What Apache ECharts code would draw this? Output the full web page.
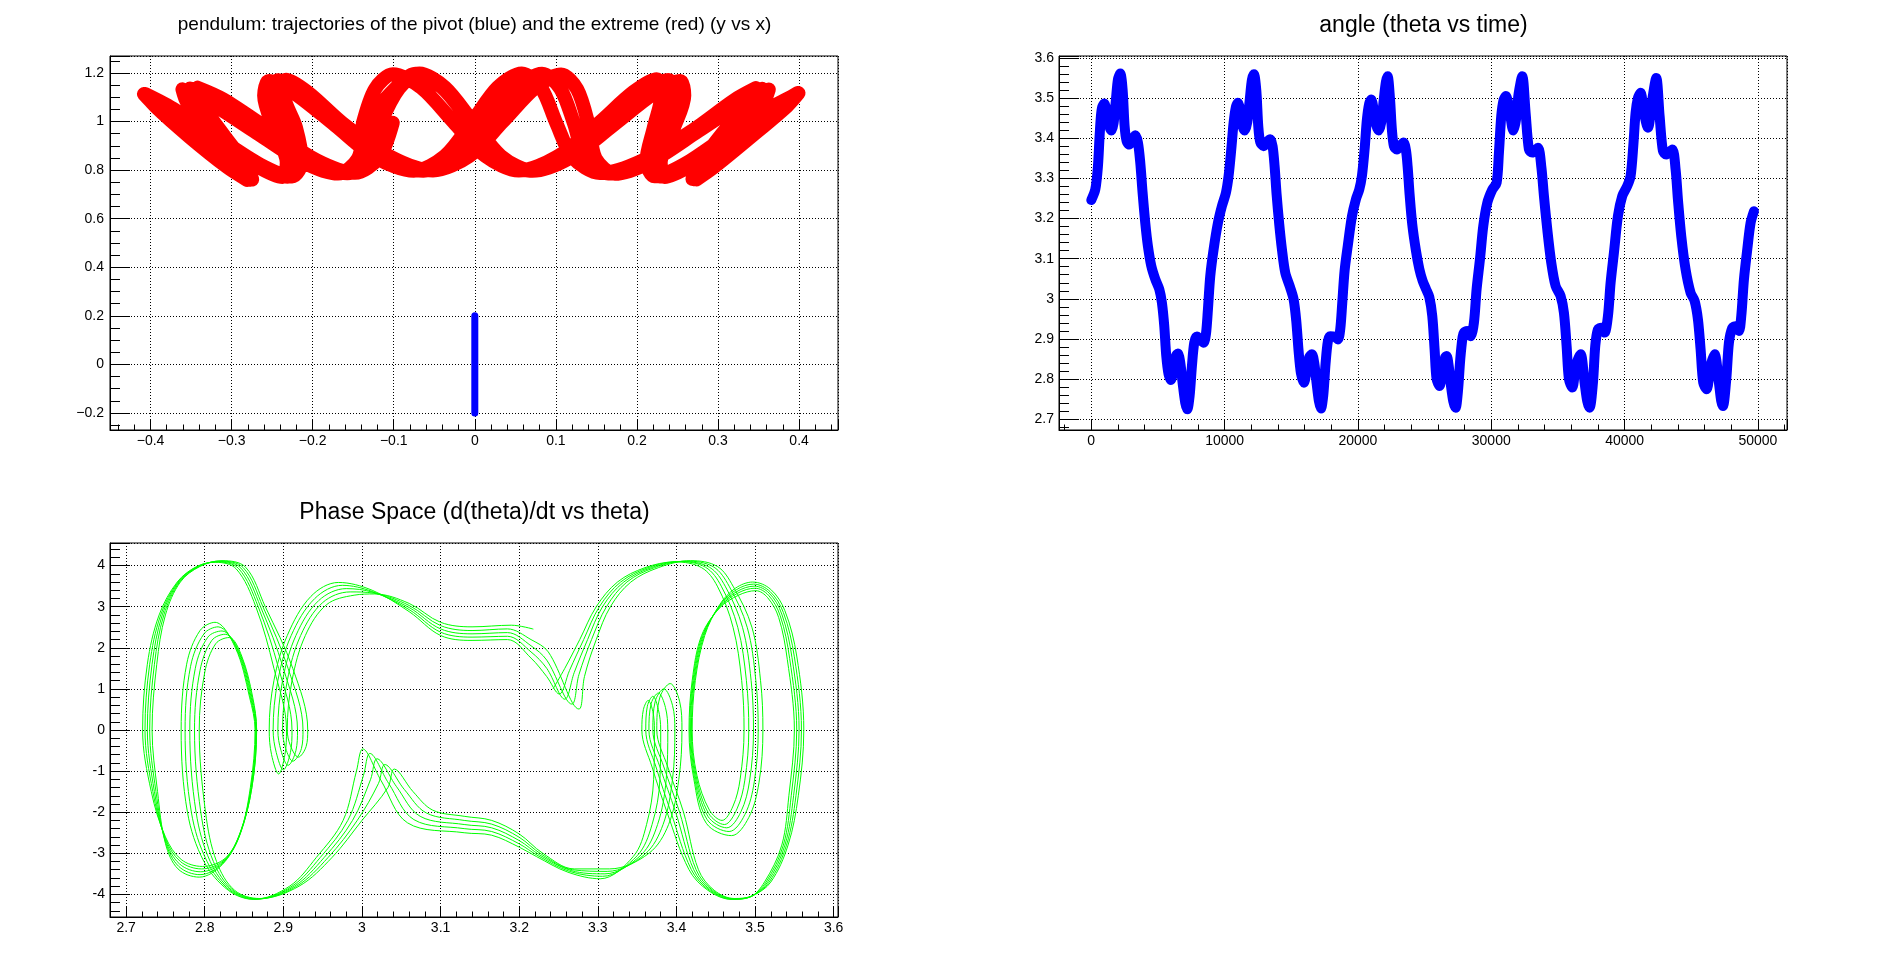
<!DOCTYPE html>
<html><head><meta charset="utf-8">
<script src="https://cdn.jsdelivr.net/npm/echarts@6/dist/echarts.min.js"></script>
<style>html,body{margin:0;padding:0;background:#fff}#c{width:1898px;height:974px}</style>
</head><body><div id="c"></div>
<script>
// ---------- titles ----------
const titles = [
  'pendulum: trajectories of the pivot (blue) and the extreme (red) (y vs x)',
  'angle (theta vs time)',
  'Phase Space (d(theta)/dt vs theta)'
];

// ---------- pad 1: pivot (blue) and extreme (red), three successive laps ----------
const pivotX = [0, 0];
const pivotY = [-0.2, 0.2];
const extremeX1 = [-0.1012,-0.1181,-0.1477,-0.1946,-0.2536,-0.3104,-0.3420,-0.3388,-0.3111,-0.2815,-0.2746,-0.3002,-0.3480,-0.3930,-0.4082,-0.3823,
  -0.3263,-0.2716,-0.2371,-0.2320,-0.2478,-0.2599,-0.2540,-0.2225,-0.1725,-0.1221,-0.0753,-0.0370,-0.0032,0.0283,0.0580,0.0819,
  0.1004,0.1209,0.1542,0.2052,0.2683,0.3203,0.3469,0.3387,0.3056,0.2761,0.2684,0.2919,0.3378,0.3824,0.3983,0.3746,
  0.3218,0.2681,0.2342,0.2293,0.2451,0.2584,0.2532,0.2215,0.1708,0.1180,0.0711,0.0322,-0.0026,-0.0368,-0.0684,-0.0933];
const extremeY1 = [0.9949,0.8516,0.7890,0.8395,0.9673,1.0920,1.1397,1.0823,0.9504,0.8182,0.7616,0.8125,0.9375,1.0610,1.1129,1.0654,
  0.9453,0.8210,0.7715,0.8313,0.9688,1.1070,1.1672,1.1163,0.9850,0.8511,0.7972,0.8579,1.0000,1.1410,1.1983,1.1380,
  0.9949,0.8513,0.7880,0.8373,0.9633,1.0887,1.1379,1.0823,0.9522,0.8197,0.7633,0.8151,0.9412,1.0654,1.1172,1.0686,
  0.9468,0.8220,0.7722,0.8320,0.9695,1.1074,1.1674,1.1166,0.9853,0.8516,0.7975,0.8581,1.0000,1.1407,1.1977,1.1370];
const extremeX2 = [-0.1161,-0.1299,-0.1574,-0.2039,-0.2633,-0.3203,-0.3513,-0.3466,-0.3168,-0.2858,-0.2777,-0.3025,-0.3498,-0.3933,-0.4074,-0.3808,
  -0.3244,-0.2681,-0.2310,-0.2220,-0.2332,-0.2467,-0.2427,-0.2136,-0.1666,-0.1132,-0.0634,-0.0220,0.0156,0.0516,0.0829,0.1055,
  0.1223,0.1365,0.1645,0.2118,0.2721,0.3263,0.3546,0.3471,0.3142,0.2812,0.2714,0.2942,0.3397,0.3838,0.3988,0.3732,
  0.3180,0.2636,0.2283,0.2209,0.2334,0.2448,0.2391,0.2088,0.1609,0.1124,0.0678,0.0294,-0.0058,-0.0405,-0.0733,-0.0981];
const extremeY2 = [0.9932,0.8501,0.7875,0.8376,0.9647,1.0887,1.1363,1.0794,0.9485,0.8169,0.7607,0.8118,0.9368,1.0608,1.1133,1.0660,
  0.9459,0.8220,0.7730,0.8336,0.9724,1.1105,1.1701,1.1183,0.9860,0.8522,0.7980,0.8584,0.9999,1.1401,1.1966,1.1358,
  0.9925,0.8492,0.7864,0.8359,0.9623,1.0867,1.1350,1.0792,0.9494,0.8182,0.7625,0.8144,0.9405,1.0648,1.1170,1.0692,
  0.9481,0.8233,0.7736,0.8339,0.9724,1.1110,1.1710,1.1194,0.9870,0.8523,0.7977,0.8582,1.0000,1.1406,1.1973,1.1366];
const extremeX3 = [-0.1340,-0.1440,-0.1687,-0.2138,-0.2729,-0.3301,-0.3607,-0.3545,-0.3225,-0.2900,-0.2808,-0.3048,-0.3517,-0.3936,-0.4065,-0.3793,
  -0.3225,-0.2647,-0.2253,-0.2133,-0.2206,-0.2355,-0.2329,-0.2057,-0.1607,-0.1029,-0.0515,-0.0067,0.0345,0.0745,0.1064,0.1262,
  0.1401,0.1490,0.1728,0.2173,0.2760,0.3327,0.3627,0.3557,0.3227,0.2860,0.2734,0.2955,0.3416,0.3853,0.3993,0.3719,
  0.3142,0.2587,0.2216,0.2116,0.2208,0.2304,0.2244,0.1958,0.1510,0.1008,0.0543,0.0129,-0.0267,-0.0659,-0.1012,-0.1231,-0.1383];
const extremeY3 = [0.9910,0.8482,0.7857,0.8355,0.9620,1.0854,1.1327,1.0765,0.9466,0.8156,0.7598,0.8110,0.9361,1.0607,1.1137,1.0667,
  0.9466,0.8229,0.7743,0.8356,0.9754,1.1133,1.1725,1.1200,0.9870,0.8533,0.7987,0.8586,0.9994,1.1386,1.1943,1.1334,
  0.9901,0.8474,0.7850,0.8347,0.9612,1.0844,1.1319,1.0760,0.9465,0.8168,0.7619,0.8139,0.9399,1.0642,1.1168,1.0697,
  0.9494,0.8246,0.7751,0.8360,0.9753,1.1145,1.1745,1.1220,0.9885,0.8535,0.7985,0.8585,0.9996,1.1392,1.1949,1.1338,0.9904];

// ---------- pad 2: theta vs time ----------
const thetaTime = [0,300,500,625,725,825,975,1175,1350,1500,1675,1850,2000,2175,2350,2500,2650,2850,3050,3300,3500,3675,3850,4050,4250,4500,4800,5100,5300,5475,5625,5800,5975,6175,6350,6500,6675,6850,7050,7200,7375,7550,7725,7925,8175,8425,8600,8750,8925,9175,9500,9800,10100,
  10300,10500,10675,10850,11000,11200,11350,11500,11700,11900,12050,12200,12375,12525,12675,12925,13150,13425,13600,13750,13900,14100,14300,14550,14900,15175,15375,15550,15725,15950,16150,16350,16550,16725,16900,17075,17225,17400,17575,17750,17925,18250,18500,18675,18825,19000,19250,19550,19850,20100,
  20300,20500,20675,20850,21000,21200,21350,21550,21750,21950,22100,22225,22400,22550,22700,22925,23150,23425,23600,23725,23875,24075,24350,24600,24850,25100,25350,25575,25750,25900,26125,26375,26550,26650,26800,26950,27150,27325,27500,27675,27850,27950,28200,28450,28700,28900,29150,29400,29700,30075,30400,
  30575,30750,30925,31100,31375,31650,31850,32050,32325,32575,32825,33075,33500,33750,33950,34200,34500,34825,35200,35450,35650,35825,36075,36350,36700,37000,37200,37375,37625,37800,38000,38250,38500,38750,38950,39200,39500,39825,40200,40450,
  40650,40825,41000,41200,41450,41750,42075,42375,42625,42875,43125,43575,43825,44000,44250,44575,44950,45250,45500,45700,45900,46150,46450,46750,47075,47250,47375,47625,47825,48075,48325,48575,48750,48950,49200,49450,49700];
const thetaAngle = [3.246,3.272,3.33,3.405,3.455,3.478,3.486,3.463,3.43,3.419,3.438,3.496,3.546,3.561,3.521,3.43,3.393,3.384,3.393,3.407,3.389,3.339,3.264,3.189,3.131,3.082,3.049,3.024,2.99,2.932,2.858,2.812,2.798,2.829,2.858,2.864,2.841,2.791,2.741,2.725,2.758,2.833,2.891,2.906,2.899,2.891,2.912,2.974,3.057,3.123,3.189,3.231,3.264,
  3.306,3.372,3.438,3.478,3.488,3.462,3.43,3.419,3.44,3.5,3.545,3.559,3.52,3.43,3.39,3.38,3.39,3.397,3.38,3.33,3.26,3.185,3.123,3.065,3.03,2.999,2.945,2.87,2.815,2.791,2.82,2.855,2.862,2.84,2.79,2.745,2.727,2.76,2.84,2.895,2.907,2.906,2.899,2.925,2.99,3.07,3.135,3.205,3.248,3.272,
  3.306,3.372,3.447,3.487,3.496,3.466,3.435,3.419,3.44,3.5,3.54,3.554,3.5,3.42,3.38,3.372,3.38,3.389,3.37,3.33,3.26,3.185,3.12,3.075,3.045,3.025,3.005,2.957,2.874,2.8,2.783,2.833,2.855,2.858,2.835,2.791,2.745,2.729,2.77,2.85,2.905,2.916,2.92,2.907,2.941,3.024,3.098,3.181,3.239,3.272,3.289,
  3.364,3.455,3.495,3.505,3.467,3.419,3.445,3.51,3.554,3.463,3.372,3.364,3.376,3.33,3.256,3.173,3.09,3.032,3.007,2.965,2.883,2.8,2.779,2.833,2.862,2.791,2.745,2.729,2.791,2.883,2.924,2.928,2.916,2.957,3.04,3.115,3.206,3.256,3.281,3.306,
  3.38,3.463,3.5,3.513,3.463,3.426,3.496,3.55,3.455,3.368,3.359,3.372,3.322,3.247,3.156,3.073,3.015,2.995,2.949,2.874,2.791,2.775,2.833,2.862,2.791,2.745,2.733,2.8,2.891,2.928,2.932,2.92,2.957,3.048,3.123,3.189,3.218];

// ---------- pad 3: phase space, five successive cycles [theta, dtheta/dt] ----------
const phaseCycle0 = [[3.243,1.00],[3.258,1.5],[3.277,2.2],[3.298,3.0],[3.325,3.6],[3.36,3.95],[3.398,4.09],[3.432,3.95],[3.452,3.5],[3.472,2.5],[3.483,1.2],[3.486,0],[3.481,-1.2],[3.472,-1.85],[3.458,-2.2],[3.442,-1.95],[3.426,-1.1],[3.42,0],[3.424,1.2],[3.436,2.3],[3.455,3.05],[3.475,3.45],[3.497,3.6],[3.52,3.42],[3.538,2.9],[3.553,1.8],[3.562,0],[3.555,-1.6],[3.542,-2.8],[3.52,-3.7],[3.497,-4.03],[3.474,-4.1],[3.448,-3.9],[3.428,-3.4],[3.409,-2.0],[3.389,-0.9],[3.375,0],[3.379,0.8],[3.392,1.13],[3.404,0.7],[3.407,0],[3.403,-1.2],[3.39,-2.3],[3.365,-3.0],[3.315,-3.38],[3.27,-3.38],[3.23,-3.0],[3.2,-2.53],[3.165,-2.2],[3.13,-2.1],[3.09,-1.95],[3.065,-1.5],[3.041,-0.95],[3.033,-1.4],[3.0,-2.2],[2.962,-3.1],[2.92,-3.8],[2.87,-4.1],[2.838,-3.9],[2.815,-3.2],[2.801,-2.0],[2.793,0],[2.8,1.4],[2.814,2.1],[2.831,2.25],[2.847,1.8],[2.861,0.8],[2.866,0],[2.86,-1.4],[2.845,-2.5],[2.826,-3.12],[2.797,-3.32],[2.77,-3.15],[2.75,-2.6],[2.732,-1.5],[2.721,0],[2.727,1.6],[2.742,2.8],[2.765,3.6],[2.79,3.98],[2.814,4.08],[2.84,3.92],[2.865,3.0],[2.888,1.5],[2.904,0],[2.902,-0.6],[2.894,-1.07],[2.885,-0.6],[2.882,0],[2.888,1.2],[2.905,2.3],[2.935,3.25],[2.97,3.59],[3.013,3.4],[3.06,2.88],[3.1,2.3],[3.14,2.18],[3.185,2.2],[3.215,1.75],[3.235,1.3]];
const phaseCycle1 = [[3.251,0.875],[3.264,1.45],[3.282,2.2],[3.302,3.0],[3.329,3.6],[3.364,3.95],[3.403,4.1],[3.437,3.96],[3.457,3.5],[3.478,2.5],[3.489,1.2],[3.492,0],[3.487,-1.22],[3.477,-1.92],[3.461,-2.3],[3.441,-2.03],[3.425,-1.12],[3.419,0],[3.423,1.2],[3.435,2.3],[3.455,3.03],[3.476,3.41],[3.498,3.55],[3.519,3.37],[3.536,2.86],[3.55,1.78],[3.559,0],[3.552,-1.6],[3.54,-2.8],[3.518,-3.7],[3.496,-4.04],[3.473,-4.11],[3.446,-3.9],[3.425,-3.4],[3.404,-2.0],[3.384,-0.9],[3.37,0],[3.373,0.7],[3.384,1.0],[3.395,0.6],[3.398,0],[3.395,-1.2],[3.383,-2.3],[3.36,-3.02],[3.312,-3.44],[3.268,-3.4],[3.228,-3.02],[3.2,-2.61],[3.165,-2.29],[3.13,-2.2],[3.082,-2.02],[3.054,-1.45],[3.029,-0.84],[3.021,-1.3],[2.994,-2.2],[2.957,-3.1],[2.917,-3.8],[2.868,-4.11],[2.836,-3.9],[2.811,-3.2],[2.795,-2.0],[2.787,0],[2.794,1.45],[2.809,2.18],[2.826,2.33],[2.845,1.85],[2.86,0.8],[2.866,0],[2.86,-1.4],[2.845,-2.52],[2.825,-3.16],[2.796,-3.38],[2.769,-3.2],[2.75,-2.64],[2.734,-1.5],[2.724,0],[2.73,1.6],[2.744,2.8],[2.766,3.6],[2.791,3.98],[2.816,4.09],[2.843,3.93],[2.868,3.0],[2.894,1.5],[2.911,0],[2.909,-0.55],[2.9,-0.97],[2.891,-0.55],[2.887,0],[2.893,1.2],[2.91,2.3],[2.94,3.2],[2.975,3.52],[3.013,3.37],[3.06,2.93],[3.1,2.38],[3.14,2.26],[3.185,2.28],[3.215,1.9],[3.235,1.5]];
const phaseCycle2 = [[3.258,0.75],[3.270,1.4],[3.287,2.2],[3.306,3.0],[3.333,3.6],[3.368,3.95],[3.408,4.1],[3.442,3.96],[3.462,3.5],[3.484,2.5],[3.495,1.2],[3.498,0],[3.493,-1.24],[3.482,-1.99],[3.464,-2.38],[3.44,-2.1],[3.424,-1.14],[3.418,0],[3.422,1.2],[3.434,2.3],[3.455,3.01],[3.477,3.37],[3.499,3.5],[3.518,3.33],[3.534,2.82],[3.547,1.76],[3.556,0],[3.549,-1.6],[3.538,-2.8],[3.516,-3.7],[3.495,-4.05],[3.472,-4.11],[3.444,-3.9],[3.422,-3.4],[3.399,-2.0],[3.379,-0.9],[3.365,0],[3.368,0.65],[3.377,0.9],[3.386,0.55],[3.389,0],[3.387,-1.2],[3.376,-2.3],[3.355,-3.04],[3.309,-3.5],[3.266,-3.42],[3.226,-3.04],[3.2,-2.69],[3.165,-2.38],[3.13,-2.3],[3.074,-2.1],[3.044,-1.38],[3.019,-0.70],[3.011,-1.2],[2.988,-2.2],[2.952,-3.1],[2.914,-3.8],[2.866,-4.11],[2.834,-3.9],[2.807,-3.2],[2.789,-2.0],[2.781,0],[2.788,1.5],[2.804,2.26],[2.822,2.41],[2.843,1.9],[2.859,0.8],[2.865,0],[2.859,-1.4],[2.845,-2.54],[2.824,-3.2],[2.795,-3.45],[2.768,-3.26],[2.75,-2.68],[2.736,-1.5],[2.727,0],[2.733,1.6],[2.746,2.8],[2.767,3.6],[2.792,3.98],[2.818,4.1],[2.846,3.94],[2.871,3.0],[2.9,1.5],[2.918,0],[2.916,-0.5],[2.906,-0.86],[2.897,-0.5],[2.893,0],[2.899,1.2],[2.916,2.3],[2.945,3.15],[2.98,3.44],[3.014,3.35],[3.06,2.98],[3.1,2.46],[3.14,2.34],[3.185,2.37],[3.215,2.05],[3.235,1.7]];
const phaseCycle3 = [[3.267,0.63],[3.276,1.35],[3.292,2.2],[3.311,3.0],[3.337,3.6],[3.372,3.95],[3.413,4.11],[3.447,3.97],[3.467,3.5],[3.49,2.5],[3.501,1.2],[3.504,0],[3.499,-1.26],[3.487,-2.06],[3.467,-2.47],[3.439,-2.18],[3.423,-1.16],[3.417,0],[3.421,1.2],[3.433,2.3],[3.455,2.99],[3.478,3.33],[3.5,3.45],[3.517,3.28],[3.532,2.78],[3.544,1.74],[3.553,0],[3.546,-1.6],[3.536,-2.8],[3.514,-3.7],[3.494,-4.06],[3.471,-4.12],[3.442,-3.9],[3.419,-3.4],[3.393,-2.0],[3.374,-0.9],[3.361,0],[3.363,0.58],[3.37,0.82],[3.377,0.5],[3.38,0],[3.379,-1.2],[3.369,-2.3],[3.35,-3.06],[3.306,-3.56],[3.264,-3.44],[3.224,-3.06],[3.2,-2.77],[3.165,-2.47],[3.13,-2.4],[3.066,-2.18],[3.034,-1.3],[3.010,-0.57],[3.002,-1.1],[2.982,-2.2],[2.947,-3.1],[2.911,-3.8],[2.864,-4.12],[2.832,-3.9],[2.803,-3.2],[2.783,-2.0],[2.775,0],[2.782,1.55],[2.799,2.34],[2.817,2.51],[2.841,1.95],[2.858,0.8],[2.865,0],[2.859,-1.4],[2.844,-2.56],[2.823,-3.24],[2.794,-3.52],[2.767,-3.32],[2.75,-2.72],[2.738,-1.5],[2.730,0],[2.736,1.6],[2.748,2.8],[2.768,3.6],[2.793,3.98],[2.82,4.11],[2.849,3.95],[2.874,3.0],[2.906,1.5],[2.925,0],[2.923,-0.45],[2.912,-0.76],[2.903,-0.45],[2.899,0],[2.905,1.2],[2.922,2.3],[2.95,3.1],[2.985,3.36],[3.015,3.33],[3.06,3.03],[3.1,2.54],[3.14,2.42],[3.185,2.46],[3.215,2.2],[3.237,1.9]];
const phaseCycle4 = [[3.276,0.51],[3.283,1.3],[3.298,2.2],[3.316,3.0],[3.342,3.6],[3.377,3.95],[3.418,4.12],[3.452,3.98],[3.472,3.5],[3.496,2.5],[3.507,1.2],[3.51,0],[3.505,-1.28],[3.492,-2.13],[3.47,-2.57],[3.438,-2.27],[3.422,-1.18],[3.416,0],[3.42,1.2],[3.432,2.3],[3.455,2.97],[3.479,3.28],[3.501,3.39],[3.516,3.22],[3.53,2.74],[3.541,1.72],[3.55,0],[3.543,-1.6],[3.534,-2.8],[3.512,-3.7],[3.493,-4.07],[3.47,-4.12],[3.44,-3.9],[3.416,-3.4],[3.388,-2.0],[3.369,-0.9],[3.356,0],[3.358,0.5],[3.364,0.72],[3.37,0.45],[3.372,0],[3.371,-1.2],[3.362,-2.3],[3.345,-3.08],[3.303,-3.62],[3.262,-3.46],[3.222,-3.08],[3.2,-2.85],[3.165,-2.56],[3.13,-2.5],[3.058,-2.26],[3.024,-1.22],[3.001,-0.46],[2.993,-1.0],[2.976,-2.2],[2.942,-3.1],[2.908,-3.8],[2.862,-4.12],[2.83,-3.9],[2.799,-3.2],[2.778,-2.0],[2.77,0],[2.777,1.6],[2.794,2.42],[2.813,2.62],[2.839,2.0],[2.857,0.8],[2.864,0],[2.858,-1.4],[2.844,-2.58],[2.822,-3.28],[2.793,-3.58],[2.766,-3.38],[2.75,-2.76],[2.74,-1.5],[2.733,0],[2.739,1.6],[2.75,2.8],[2.769,3.6],[2.794,3.98],[2.822,4.12],[2.852,3.96],[2.877,3.0],[2.912,1.5],[2.931,0],[2.929,-0.4],[2.919,-0.66],[2.909,-0.38],[2.905,0],[2.911,1.2],[2.928,2.3],[2.955,3.05],[2.99,3.28],[3.016,3.31],[3.06,3.08],[3.1,2.62],[3.14,2.51],[3.19,2.55],[3.218,2.455]];

// ---------- build ----------
const FONT = '"Liberation Sans", Arial, Helvetica, sans-serif';
const zip = (a, b) => a.map((v, i) => [v, b[i]]);
const phaseData = [].concat(phaseCycle0, phaseCycle1, phaseCycle2, phaseCycle3, phaseCycle4);
const extremeData = [].concat(zip(extremeX1, extremeY1), zip(extremeX2, extremeY2), zip(extremeX3, extremeY3));

function labelFmt(step, minus) {
  return function (v) {
    const r = Math.round(v / step);
    if (Math.abs(v - r * step) > step * 1e-4) return '';
    let s = String(parseFloat((r * step).toFixed(6)));
    if (minus) s = s.replace('-', '\u2212');
    return s;
  };
}
function axis(o) {
  return {
    type: 'value', gridIndex: o.grid, min: o.min, max: o.max, position: o.pos,
    splitNumber: o.split, minInterval: o.step, maxInterval: o.step,
    axisLine: {show: true, onZero: false, lineStyle: {color: '#000', width: 1}},
    axisTick: {show: true, inside: true, length: o.tick, lineStyle: {color: '#000', width: 1}},
    minorTick: {show: true, splitNumber: o.minor, length: o.tick / 2, lineStyle: {color: '#000', width: 1}},
    splitLine: {show: true, lineStyle: {color: '#000', width: 1, type: [1, 2]}},
    minorSplitLine: {show: false},
    axisLabel: {show: true, color: '#000', fontFamily: FONT, fontSize: 14, margin: o.margin,
      formatter: labelFmt(o.step, o.minus)}
  };
}
const gridBase = {show: true, borderColor: '#000', borderWidth: 1, backgroundColor: 'transparent', containLabel: false, outerBoundsMode: 'none'};

const option = {
  animation: false,
  backgroundColor: '#fff',
  grid: [
    Object.assign({left: 110, top: 56, width: 728, height: 374}, gridBase),
    Object.assign({left: 1059, top: 56, width: 728, height: 374}, gridBase),
    Object.assign({left: 110, top: 543, width: 728, height: 374}, gridBase)
  ],
  xAxis: [
    axis({grid: 0, pos: 'bottom', min: -0.450, max: 0.448, split: 9, step: 0.1, minor: 5, tick: 11, margin: 4, minus: true}),
    axis({grid: 1, pos: 'bottom', min: -2420, max: 52180, split: 5, step: 10000, minor: 5, tick: 11, margin: 4}),
    axis({grid: 2, pos: 'bottom', min: 2.6795, max: 3.6055, split: 9, step: 0.1, minor: 5, tick: 11, margin: 4})
  ],
  yAxis: [
    axis({grid: 0, pos: 'left', min: -0.27, max: 1.27, split: 8, step: 0.2, minor: 4, tick: 20, margin: 6, minus: true}),
    axis({grid: 1, pos: 'left', min: 2.6735, max: 3.6045, split: 9, step: 0.1, minor: 5, tick: 20, margin: 5}),
    axis({grid: 2, pos: 'left', min: -4.55, max: 4.55, split: 9, step: 1, minor: 5, tick: 20, margin: 5})
  ],
  graphic: [
    {type: 'text', x: 474.5, y: 25, style: {text: titles[0], fontSize: 19, fontFamily: FONT, fill: '#000', align: 'center', verticalAlign: 'middle'}},
    {type: 'text', x: 1423.5, y: 25.5, style: {text: titles[1], fontSize: 23, fontFamily: FONT, fill: '#000', align: 'center', verticalAlign: 'middle'}},
    {type: 'text', x: 474.5, y: 512.5, style: {text: titles[2], fontSize: 23, fontFamily: FONT, fill: '#000', align: 'center', verticalAlign: 'middle'}}
  ],
  series: [
    {type: 'line', xAxisIndex: 0, yAxisIndex: 0, data: extremeData, showSymbol: false, smooth: 0.3,
      lineStyle: {color: '#ff0000', width: 14, cap: 'round', join: 'round'}, silent: true},
    {type: 'line', xAxisIndex: 0, yAxisIndex: 0, data: zip(pivotX, pivotY), showSymbol: false,
      lineStyle: {color: '#0000ff', width: 7, cap: 'round'}, silent: true},
    {type: 'line', xAxisIndex: 1, yAxisIndex: 1, data: zip(thetaTime, thetaAngle), showSymbol: false, smooth: 0.3,
      lineStyle: {color: '#0000ff', width: 10, cap: 'round', join: 'round'}, silent: true},
    {type: 'line', xAxisIndex: 2, yAxisIndex: 2, data: phaseData, showSymbol: false, smooth: 0.35,
      lineStyle: {color: '#00ff00', width: 1}, silent: true}
  ]
};
const chart = echarts.init(document.getElementById('c'), null, {renderer: 'canvas'});
chart.setOption(option);
</script></body></html>
